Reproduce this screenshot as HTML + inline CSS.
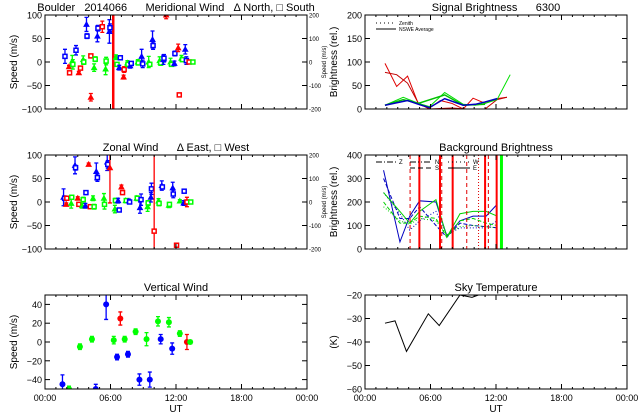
<!DOCTYPE html>
<html><head><meta charset="utf-8"><style>
body{margin:0;background:#fff}
svg{display:block;font-family:"Liberation Sans",sans-serif}
</style></head><body>
<svg id="c" width="640" height="420" viewBox="0 0 640 420"></svg>
<script>
// ---- data ----
const merTimes=[1.83,2.84,2.2,2.25,2.5,2.55,3.1,3.25,3.5,3.55,3.8,3.85,4.2,4.2,4.5,4.6,4.8,4.85,5.25,5.55,5.6,5.9,5.95,6.5,6.6,6.8,6.9,7.2,7.25,7.55,7.6,7.8,7.9,8.5,8.55,8.85,8.95,9.5,9.6,9.85,9.9,10.5,10.6,10.85,10.9,11.1,11.5,11.6,11.85,11.9,12.2,12.3,12.5,12.6,12.85,12.95,13.2,13.55];
const merVals=[12,25,-10,-23,2,-5,-23,-13,5,0,80,55,-75,13,-12,6,55,72,75,-15,2,65,73,10,-5,-12,9,-32,-16,-2,-5,-8,-3,0,-2,12,-4,0,-5,48,35,3,-2,5,8,100,0,-5,-3,18,30,-70,8,5,27,3,0,0];
const merColors="b b r r g g r r g g b b r r g g b b r g g b b g g b b r r g g b b g g b b g g b b g g b b r g g b b r r g g b b r g".split(" ");
const merMarks="s s t s t s t s t s t s t s t s t s s t s t s t s t s t s t s t s t s t s t s t s t s t s t t s t s t s t s t s s s".split(" ");
const merErrs=[15,10,3,3,12,10,3,3,8,5,15,5,8,3,8,5,12,6,12,12,8,25,8,5,3,5,4,4,6,5,3,5,3,5,3,15,8,12,4,18,8,8,5,10,8,8,8,3,5,5,8,4,6,3,10,8,2,2];
const merLines=[6.25];

const zonTimes=[1.7,1.8,1.95,2.0,2.4,2.45,2.75,2.8,3.0,3.1,3.4,3.5,3.7,3.75,4.0,4.15,4.4,4.5,4.7,4.8,5.4,5.45,5.7,5.75,5.95,6.4,6.45,6.7,6.8,7.0,7.1,7.4,7.45,7.7,7.75,8.4,8.45,8.7,8.8,9.4,9.45,9.7,9.75,10.0,10.4,10.45,10.7,10.75,11.35,11.4,11.7,11.75,12.05,12.35,12.7,12.75,13.0,13.35];
const zonVals=[10,8,-5,8,-3,10,78,73,8,-5,-8,5,-8,20,80,-10,8,-10,65,52,8,-5,85,80,73,-15,3,3,-17,32,20,3,3,2,0,8,8,-12,5,-10,-2,10,28,-62,2,-3,35,32,-7,-5,30,17,-92,2,-2,23,0,0];
const zonColors="b b r r g g b b r r g g b b r r g g b b g g b b r g g b b r r g g b b g g b b g g b b r g g b b g g b b r g b b r g".split(" ");
const zonMarks="t s t s t s t s t s t s t s t s t s t s t s t s t t s t s t s t s t s t s t s t s t s s t s t s t s t s s t t s s s".split(" ");
const zonErrs=[18,5,3,4,10,4,18,5,3,3,5,5,5,4,3,3,5,5,18,8,10,10,18,8,75,8,5,5,3,4,4,4,3,4,3,5,3,12,12,10,5,10,12,200,5,5,10,4,5,3,12,8,3,3,5,4,10,2];
const zonLines=[];

const verTimes=[1.6,2.2,3.2,4.3,4.65,5.6,6.3,6.9,6.6,7.3,7.6,8.3,8.65,9.3,9.6,10.35,10.6,11.35,11.65,12.35,13.0,13.3];
const verVals=[-45,-50,-5,3,-50,40,2,25,-16,3,-13,11,-40,3,-40,22,3,21,-7,9,0,0];
const verColors="b g g g b b g r b g b g b g b g b g b g r g".split(" ");
const verErrs=[10,3,3,3,5,16,4,7,3,3,3,3,6,7,8,5,5,5,6,3,8,2];

const skyTimes=[1.83,2.75,3.8,5.8,6.8,8.7,9.8,10.7,11.5];
const skyVals=[-32,-31,-44,-28,-33,-20,-21,-19.5,-19];

const sigTimes1=[1.83,2.9,3.9,4.9,5.9,6.9,7.95,9.0,9.9,11.0,12.1,13.0];
const sigRed1=[97,48,70,10,2,18,12,0,23,12,22,25];
const sigTimes2=[1.83,2.9,3.9,4.9,5.9,7.95,9.3,11.0,12.1,13.0];
const sigRed2=[78,73,55,12,0,2,0,0,20,25];
const sigTimes3=[1.83,3.5,4.9,5.9,7.3,9.0,10.1,11.0,12.1,13.3];
const sigGreen1=[8,25,12,5,35,10,8,12,20,73];
const sigTimes4=[1.83,3.5,4.9,7.3,9.0,11.0];
const sigGreen2=[8,20,12,30,8,10];
const sigTimes5=[1.83,3.9,4.9,5.9,7.3,9.0,10.1,11.0,12.1];
const sigBlue=[8,18,10,3,22,8,10,15,22];

const bgTimes=[1.7,3.2,4.1,5.0,6.5,7.5,8.7,9.9,11.1,12.1];
const bgBlue1=[335,30,140,205,200,55,120,140,140,190];
const bgBlue2=[300,130,130,180,100,50,110,100,95,90];
const bgBlue3=[240,150,80,120,160,60,90,90,90,120];
const bgGreen1=[240,160,110,160,210,50,150,160,160,140];
const bgGreen2=[200,110,110,140,130,50,120,130,110,100];
const bgGreen3=[180,120,105,130,120,60,95,100,95,90];
const bgRedSolid=[4.98,6.87,8.03,11.0,12.06];
const bgRedDashed=[4.13,7.03,9.32,11.3];
const bgRedDotted=[10.4];
const bgGreenLine=[12.5];

// ---- helpers ----
const svg=document.getElementById('c');
const NS='http://www.w3.org/2000/svg';
const COL={b:'#0000ff',r:'#ff0000',g:'#00ff00',k:'#000'};
function el(tag,attrs,parent){const e=document.createElementNS(NS,tag);for(const k in attrs)e.setAttribute(k,attrs[k]);(parent||svg).appendChild(e);return e;}
function txt(x,y,s,size,anchor,parent,rot){const t=el('text',{x:x,y:y,'font-size':size,'text-anchor':anchor||'middle',fill:'#000'},parent);if(rot)t.setAttribute('transform',`rotate(-90 ${x} ${y})`);t.textContent=s;return t;}

function panel(name,x0,x1,y0,y1,vmin,vmax,yticks,title,ylabel,xlabels,right){
  const g=el('g',{});
  
  
  const P={x0,x1,y0,y1,vmin,vmax,g};
  P.sx=h=>x0+(x1-x0)*h/24;
  P.sy=v=>y1-(y1-y0)*(v-vmin)/(vmax-vmin);
  const cid='clip-'+name;
  const cp=el('clipPath',{id:cid},g);el('rect',{x:x0,y:y0,width:x1-x0,height:y1-y0},cp);
  P.plot=el('g',{'clip-path':`url(#${cid})`},g);
  
  
  el('rect',{x:x0,y:y0,width:x1-x0,height:y1-y0,fill:'none',stroke:'#000','stroke-width':1},g);
  for(let h=0;h<=24;h++){const x=P.sx(h);const L=h%6==0?5:2;
    el('line',{x1:x,x2:x,y1:y1,y2:y1-L,stroke:'#000'},g);el('line',{x1:x,x2:x,y1:y0,y2:y0+L,stroke:'#000'},g);}
  yticks.forEach(v=>{const y=P.sy(v);
    el('line',{x1:x0,x2:x0+5,y1:y,y2:y,stroke:'#000'},g);el('line',{x1:x1,x2:x1-5,y1:y,y2:y,stroke:'#000'},g);
    const t=txt(x0-3,y+3.5,String(v).replace('-','−'),9,'end',g);});
  const tt=txt((x0+x1)/2,y0-4,title,11,'middle',g);tt.setAttribute('xml:space','preserve');tt.style.whiteSpace='pre';
  const yl=txt(x0-28,(y0+y1)/2,ylabel,10,'middle',g,true);
  if(xlabels){['00:00','06:00','12:00','18:00','00:00'].forEach((s,i)=>{const t=txt(P.sx(i*6),y1+12,s,9,'middle',g);});
    const u=txt((x0+x1)/2,y1+23,'UT',10,'middle',g);}
  if(right){[200,100,0,-100,-200].forEach(v=>{const y=y1-(y1-y0)*(v+200)/400;const t=txt(x1+2,y+2.5,String(v),6,'start',g);});}
  return P;
}
function windPoints(P,times,vals,cols,marks,errs,lines){
  lines.forEach(h=>{const l=el('line',{x1:P.sx(h),x2:P.sx(h),y1:P.y0,y2:P.y1,stroke:COL.r,'stroke-width':2.5},P.plot);
    });
  times.forEach((h,i)=>{const x=P.sx(h),y=P.sy(vals[i]),c=COL[cols[i]];
    const ya=P.sy(vals[i]+errs[i]),yb=P.sy(vals[i]-errs[i]);
    const eb=el('path',{d:`M${x},${ya}V${yb}M${x-2},${ya}H${x+2}M${x-2},${yb}H${x+2}`,stroke:c,'stroke-width':1.3,fill:'none'},P.plot);
    
    let m;
    if(marks[i]=='t')m=el('path',{d:`M${x},${y-2.5}L${x+2.5},${y+2}L${x-2.5},${y+2}Z`,fill:c,stroke:c,'stroke-width':1},P.plot);
    else m=el('rect',{x:x-2,y:y-2,width:4,height:4,fill:'#fff',stroke:c,'stroke-width':1.5},P.plot);
    });
}
function line(P,times,vals,col,w,dash,name){
  const d=times.map((h,i)=>(i?'L':'M')+P.sx(h)+','+P.sy(vals[i])).join('');
  const p=el('path',{d:d,fill:'none',stroke:col,'stroke-width':w||1},P.plot);
  if(dash)p.setAttribute('stroke-dasharray',dash);
  
}
function vlines(P,arr,col,w,dash,name){arr.forEach(h=>{const l=el('line',{x1:P.sx(h),x2:P.sx(h),y1:P.y0,y2:P.y1,stroke:col,'stroke-width':w},P.plot);
  if(dash)l.setAttribute('stroke-dasharray',dash);});}

// ---- panels ----
const LX0=45,LX1=307,RX0=365,RX1=627;
const mer=panel('meridional-wind',LX0,LX1,15,109,-100,100,[100,50,0,-50,-100],'Boulder   2014066      Meridional Wind   Δ North, □ South','Speed (m/s)',false,true);
windPoints(mer,merTimes,merVals,merColors,merMarks,merErrs,merLines);
const zon=panel('zonal-wind',LX0,LX1,155,249,-100,100,[100,50,0,-50,-100],'Zonal Wind      Δ East, □ West','Speed (m/s)',false,true);
windPoints(zon,zonTimes,zonVals,zonColors,zonMarks,zonErrs,zonLines);
const ver=panel('vertical-wind',LX0,LX1,295,389,-50,50,[40,20,0,-20,-40],'Vertical Wind','Speed (m/s)',true,false);
verTimes.forEach((h,i)=>{const x=ver.sx(h),y=ver.sy(verVals[i]),c=COL[verColors[i]];
  const ya=ver.sy(verVals[i]+verErrs[i]),yb=ver.sy(verVals[i]-verErrs[i]);
  const eb=el('path',{d:`M${x},${ya}V${yb}M${x-2},${ya}H${x+2}M${x-2},${yb}H${x+2}`,stroke:c,'stroke-width':1.3,fill:'none'},ver.plot);
  
  const m=el('circle',{cx:x,cy:y,r:3,fill:c},ver.plot);
  });

const sig=panel('signal-brightness',RX0,RX1,15,109,0,200,[200,150,100,50,0],'Signal Brightness      6300','Brightness (rel.)',false,false);
line(sig,sigTimes1,sigRed1,'#e00000',1,null,'signal-red-line-1');
line(sig,sigTimes2,sigRed2,'#c00000',1,null,'signal-red-line-2');
line(sig,sigTimes3,sigGreen1,'#00e000',1,null,'signal-green-line-1');
line(sig,sigTimes4,sigGreen2,'#00c000',1.5,null,'signal-green-line-2');
line(sig,sigTimes5,sigBlue,'#0000c0',1.5,null,'signal-blue-line');
const lg=el('g',{});
el('line',{x1:376,x2:396,y1:23,y2:23,stroke:'#000','stroke-dasharray':'1,3'},lg);txt(399,25,'Zenith',5,'start',lg);
el('line',{x1:376,x2:396,y1:29,y2:29,stroke:'#000'},lg);txt(399,31,'NSWE Average',5,'start',lg);

const bg=panel('background-brightness',RX0,RX1,155,249,0,400,[400,300,200,100,0],'Background Brightness','Brightness (rel.)',false,false);
line(bg,bgTimes,bgBlue1,'#0000c0',1,null,'background-blue-line-1');
line(bg,bgTimes,bgBlue2,'#0000c0',1,'4,2','background-blue-line-2');
line(bg,bgTimes,bgBlue3,'#0000c0',1,'1,2','background-blue-line-3');
line(bg,bgTimes,bgGreen1,'#00d000',1,null,'background-green-line-1');
line(bg,bgTimes,bgGreen2,'#00d000',1,'4,2','background-green-line-2');
line(bg,bgTimes,bgGreen3,'#00d000',1,'1,2','background-green-line-3');
vlines(bg,bgRedSolid,'#ff0000',2,null,'background-red-solid-line');
vlines(bg,bgRedDashed,'#e00000',1,'4,3','background-red-dashed-line');
vlines(bg,bgRedDotted,'#e00000',1,'1,2','background-red-dotted-line');
vlines(bg,bgGreenLine,'#00ff00',3,null,'background-green-thick-line');
const lb=el('g',{});
el('line',{x1:376,x2:396,y1:162,y2:162,stroke:'#000','stroke-dasharray':'6,2,1,2'},lb);txt(399,164,'Z',6,'start',lb);
el('line',{x1:410,x2:432,y1:162,y2:162,stroke:'#000','stroke-dasharray':'6,2,1,2,1,2'},lb);txt(435,164,'N',6,'start',lb);
el('line',{x1:410,x2:432,y1:168,y2:168,stroke:'#000','stroke-dasharray':'5,3'},lb);txt(435,170,'S',6,'start',lb);
el('line',{x1:448,x2:470,y1:162,y2:162,stroke:'#000','stroke-dasharray':'1,3'},lb);txt(473,164,'W',6,'start',lb);
el('line',{x1:448,x2:470,y1:168,y2:168,stroke:'#000'},lb);txt(473,170,'E',6,'start',lb);

const sky=panel('sky-temperature',RX0,RX1,295,389,-60,-20,[-20,-30,-40,-50,-60],'Sky Temperature','(K)',true,false);
line(sky,skyTimes,skyVals,'#000',1,null,'sky-temperature-line');

[[326,62],[326,202]].forEach(p=>{const t=txt(p[0],p[1],'Speed (m/s)',6,'middle',svg,true);});
</script>
</body></html>
